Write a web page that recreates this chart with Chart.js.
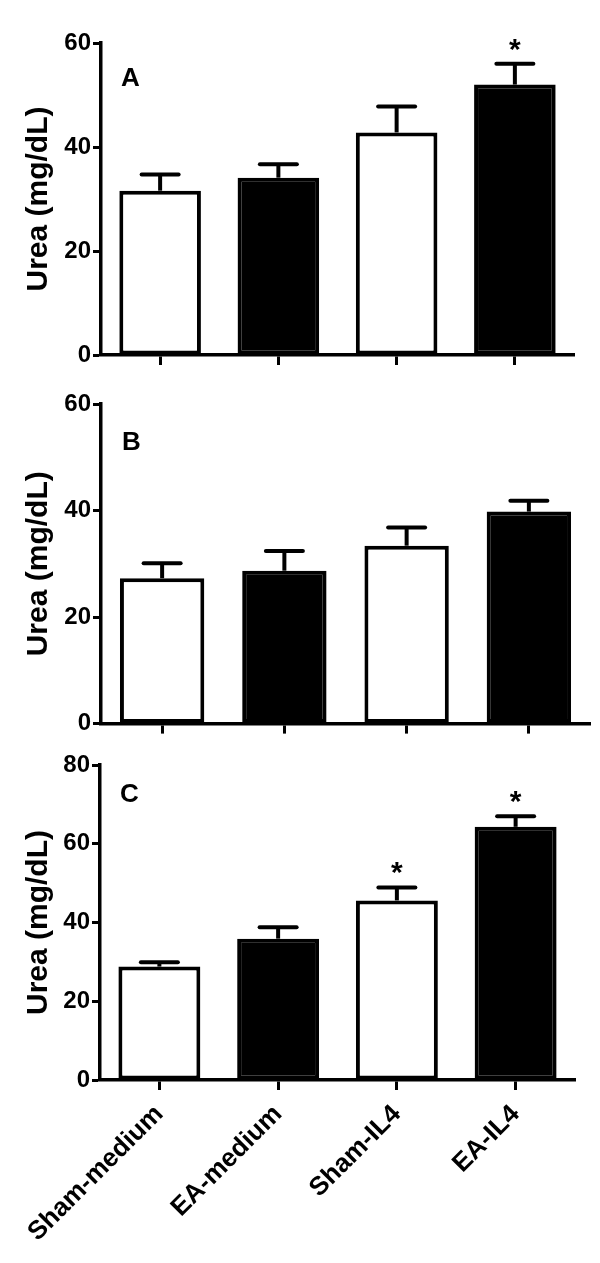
<!DOCTYPE html>
<html><head><meta charset="utf-8">
<script src="https://cdn.jsdelivr.net/npm/chart.js@4.4.0/dist/chart.umd.min.js"></script>
<style>html,body{margin:0;padding:0;background:#fff;} canvas{display:block;}</style>
</head><body>
<canvas id="cA" width="600" height="380"></canvas>
<canvas id="cB" width="600" height="360"></canvas>
<canvas id="cC" width="600" height="523"></canvas>
<script>
const categories = ['Sham-medium', 'EA-medium', 'Sham-IL4', 'EA-IL4'];
const meanA = [31.6, 34.1, 42.8, 52.0];
const semA  = [3.1, 2.6, 5.0, 4.0];
const sigA  = [false, false, false, true];
const meanB = [27.3, 28.7, 33.4, 39.8];
const semB  = [2.8, 3.7, 3.4, 2.05];
const sigB  = [false, false, false, false];
const meanC = [28.8, 35.9, 45.6, 64.3];
const semC  = [1.1, 2.9, 3.3, 2.7];
const sigC  = [false, false, true, true];
const yTicksAB = [0, 20, 40, 60];
const yTicksC  = [0, 20, 40, 60, 80];
const yTitle = 'Urea (mg/dL)';
const FONT = '"Liberation Sans", Arial, Helvetica, sans-serif';

Chart.defaults.color = '#000';
Chart.defaults.font.family = FONT;

const errorBarPlugin = {
  id: 'errbars',
  afterDatasetsDraw(chart, args, opts) {
    const ctx = chart.ctx;
    const y = chart.scales.y;
    const meta = chart.getDatasetMeta(0);
    const ds = chart.data.datasets[0];
    ctx.save();
    ctx.strokeStyle = '#000';
    ctx.fillStyle = '#000';
    ctx.lineWidth = 4;
    meta.data.forEach((bar, i) => {
      const x = bar.x;
      const yTop = bar.y;
      const yErr = y.getPixelForValue(ds.data[i] + opts.sem[i]);
      ctx.lineCap = 'butt';
      ctx.beginPath(); ctx.moveTo(x, yTop); ctx.lineTo(x, yErr); ctx.stroke();
      ctx.lineCap = 'round';
      ctx.beginPath(); ctx.moveTo(x - 18.5, yErr); ctx.lineTo(x + 18.5, yErr); ctx.stroke();
      if (opts.sig[i]) {
        ctx.font = 'bold 30px ' + FONT;
        ctx.textAlign = 'center';
        ctx.textBaseline = 'alphabetic';
        ctx.fillText('*', x, yErr - 5);
      }
    });
    ctx.font = 'bold 26px ' + FONT;
    ctx.textAlign = 'left';
    ctx.textBaseline = 'alphabetic';
    ctx.fillText(opts.letter, opts.letterX, opts.letterY);
    ctx.restore();
  }
};

function makeChart(id, means, sems, sig, yTicks, letter, L) {
  const canvas = document.getElementById(id);
  const H = canvas.height;
  return new Chart(canvas, {
    type: 'bar',
    data: {
      labels: categories,
      datasets: [{
        data: means,
        backgroundColor: ['#ffffff', '#000000', '#ffffff', '#000000'],
        borderColor: '#000000',
        borderWidth: 4,
        borderSkipped: false,
        barPercentage: 0.69,
        categoryPercentage: 1.0
      }]
    },
    options: {
      responsive: false,
      animation: false,
      events: [],
      layout: { padding: { left: 0, top: L.top, right: 600 - L.right, bottom: 0 } },
      plugins: {
        legend: { display: false },
        tooltip: { enabled: false },
        errbars: { sem: sems, sig: sig, letter: letter, letterX: L.letterX, letterY: L.letterY }
      },
      scales: {
        x: {
          type: 'category',
          offset: true,
          afterFit: s => { s.height = H - L.bottom; },
          grid: { display: true, drawOnChartArea: false, drawTicks: true, tickLength: 10, tickWidth: 3, tickColor: '#000', offset: false },
          border: { display: true, color: '#000', width: 3.5 },
          ticks: { display: L.showX, color: '#000', font: { size: 26, weight: 'bold', family: FONT }, minRotation: 45, maxRotation: 45, padding: 9, autoSkip: false }
        },
        y: {
          min: yTicks[0],
          max: yTicks[yTicks.length - 1],
          afterBuildTicks: s => { s.ticks = yTicks.map(v => ({ value: v })); },
          afterFit: s => { s.width = L.left; },
          grid: { display: true, drawOnChartArea: false, drawTicks: true, tickLength: 8, tickWidth: 3, tickColor: '#000' },
          border: { display: true, color: '#000', width: 3.5 },
          ticks: { color: '#000', font: { size: 24, weight: 'bold', family: FONT }, padding: 2 },
          title: { display: true, text: yTitle, color: '#000', font: { size: 30, weight: 'bold', family: FONT }, padding: { top: 21, bottom: 0 } }
        }
      }
    },
    plugins: [errorBarPlugin]
  });
}

makeChart('cA', meanA, semA, sigA, yTicksAB, 'A', { left: 101, right: 574, top: 43, bottom: 355, letterX: 121, letterY: 86, showX: false });
makeChart('cB', meanB, semB, sigB, yTicksAB, 'B', { left: 101, right: 590, top: 24, bottom: 348, letterX: 122, letterY: 70, showX: false });
makeChart('cC', meanC, semC, sigC, yTicksC, 'C', { left: 100, right: 575, top: 25, bottom: 340, letterX: 120, letterY: 62, showX: true });
</script>
</body></html>
